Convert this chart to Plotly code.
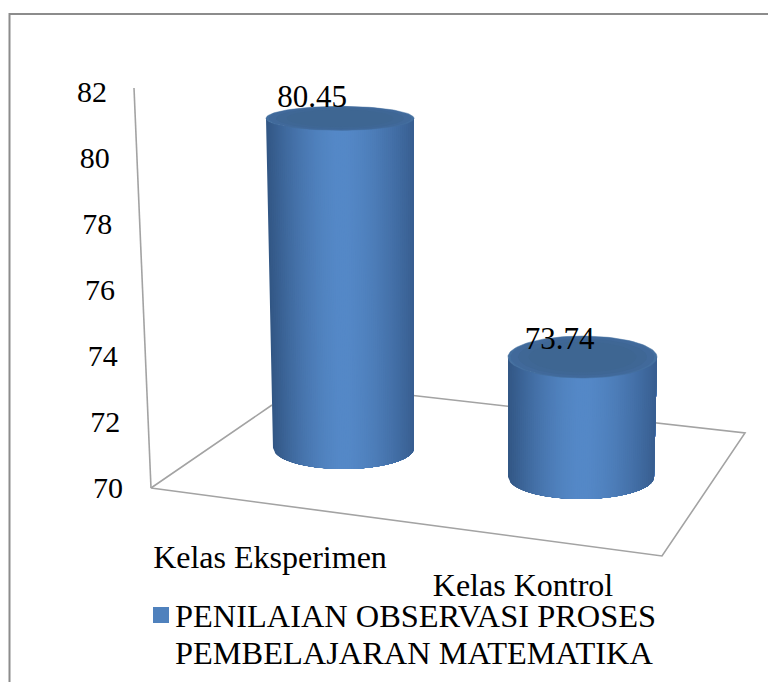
"""3D-look cylinder chart of the two class scores, drawn on plain 2D axes."""

import numpy as np
import plotly.graph_objects as go

CATEGORIES = ["Kelas Eksperimen", "Kelas Kontrol"]
VALUES = [80.45, 73.74]
Y_TICKS = [70, 72, 74, 76, 78, 80, 82]
SERIES_LINES = ["PENILAIAN OBSERVASI PROSES", "PEMBELAJARAN MATEMATIKA"]

# the page keeps its 8px body margin, so the figure is that much smaller
PAGE_MARGIN = 8
WIDTH, HEIGHT = 776 - PAGE_MARGIN, 682 - PAGE_MARGIN
FONT = "Liberation Serif"
LINE = "#a3a3a3"

# x axis is in category units, y axis in value units; both map onto the canvas
CAT_X0, CAT_STEP = 342 - PAGE_MARGIN, 239
VAL_Y70, VAL_STEP = 490 - PAGE_MARGIN, 33


def x_at(px):
    # px measured on the 776x682 window
    return (np.asarray(px, dtype=float) - PAGE_MARGIN - CAT_X0) / CAT_STEP


def y_at(px):
    return 70 + (VAL_Y70 - (np.asarray(px, dtype=float) - PAGE_MARGIN)) / VAL_STEP


# cylinder look, per category (window pixels)
TOP_CX, TOP_RX, TOP_RY = [340, 582.5], [74, 74.5], [12, 21]
BOT_CX, BOT_RX, BOT_RY = [343.5, 581], [70.5, 73], [21, 22]
BASE_PX = [448, 477]
RISE = [0.956, 0.972]  # foreshortening of the value scale at the bar's depth
LABEL_DX, LABEL_DY = [-28, -23], [-19, -16]


def shade(u):
    t = 1 - abs(u) ** 1.6
    edge = np.array([50, 86, 132]) if u < 0 else np.array([56, 94, 144])
    peak = np.array([85, 137, 200])
    r, g, b = (edge + (peak - edge) * t).astype(int)
    return f"rgb({r},{g},{b})"


def cylinder(i, value):
    traces = []
    top_px = BASE_PX[i] - (value - 70) * RISE[i] * VAL_STEP
    # painted left to right, each layer reaching the right edge, so no seams show
    for u0 in np.linspace(-1, 1, 75)[:-1]:
        us = np.linspace(u0, 1, 50)
        sin = np.sqrt(np.clip(1 - us**2, 0, 1))
        px = np.r_[TOP_CX[i] + TOP_RX[i] * us, (BOT_CX[i] + BOT_RX[i] * us)[::-1]]
        py = np.r_[top_px + TOP_RY[i] * sin, (BASE_PX[i] + BOT_RY[i] * sin)[::-1]]
        colour = shade(u0 + 1 / 74)
        traces.append(
            go.Scatter(
                x=x_at(px),
                y=y_at(py),
                mode="lines",
                fill="toself",
                fillcolor=colour,
                line=dict(width=0),
                hoverinfo="skip",
                showlegend=False,
            )
        )
    # cap: slightly lighter rim fading into the darker middle
    theta = np.linspace(0, 2 * np.pi, 120)
    for scale, colour in [(1, "#446f9f"), (0.96, "#41699a"), (0.86, "#3f6795"), (0.72, "#3e6692")]:
        traces.append(
            go.Scatter(
                x=x_at(TOP_CX[i] + TOP_RX[i] * scale * np.cos(theta)),
                y=y_at(top_px + TOP_RY[i] * scale * np.sin(theta)),
                mode="lines",
                fill="toself",
                fillcolor=colour,
                line=dict(color=colour, width=0.5),
                hovertemplate=f"{CATEGORIES[i]}: {value}<extra></extra>",
                showlegend=False,
            )
        )
    return traces, top_px


fig = go.Figure()

# wall edge and floor outline
for xs, ys in [
    ([134, 151], [88, 488]),
    ([272, 151, 662, 745, 400], [405, 488, 556, 433, 394]),
]:
    fig.add_trace(
        go.Scatter(
            x=x_at(xs),
            y=y_at(ys),
            mode="lines",
            line=dict(color=LINE, width=1.6),
            hoverinfo="skip",
            showlegend=False,
        )
    )

label_x, label_y = [], []
for i, value in enumerate(VALUES):
    traces, top_px = cylinder(i, value)
    fig.add_traces(traces)
    label_x.append(TOP_CX[i] + LABEL_DX[i])
    label_y.append(top_px + LABEL_DY[i])

# value labels
fig.add_trace(
    go.Scatter(
        x=x_at(label_x),
        y=y_at(label_y),
        mode="text",
        text=[f"{v:.2f}" for v in VALUES],
        textfont=dict(family=FONT, size=31, color="black"),
        hoverinfo="skip",
        showlegend=False,
    )
)

# tick labels follow the slanted wall
fig.add_trace(
    go.Scatter(
        x=x_at([92 + (82 - t) * 4 / 3 for t in Y_TICKS]),
        y=Y_TICKS,
        mode="text",
        text=[str(t) for t in Y_TICKS],
        textfont=dict(family=FONT, size=30, color="black"),
        hoverinfo="skip",
        showlegend=False,
    )
)

# category labels
fig.add_trace(
    go.Scatter(
        x=x_at([270, 523]),
        y=y_at([560, 588]),
        mode="text",
        text=CATEGORIES,
        textfont=dict(family=FONT, size=32, color="black"),
        hoverinfo="skip",
        showlegend=False,
    )
)

# legend swatch and text
fig.add_trace(
    go.Scatter(
        x=x_at([161]),
        y=y_at([615]),
        mode="markers",
        marker=dict(symbol="square", size=16, color="#4f81bd"),
        hoverinfo="skip",
        showlegend=False,
    )
)
for line_text, line_px in zip(SERIES_LINES, [616, 653]):
    fig.add_annotation(
        x=float(x_at(173)),
        y=float(y_at(line_px)),
        text=line_text,
        showarrow=False,
        xanchor="left",
        yanchor="middle",
        font=dict(family=FONT, size=32.4, color="black"),
    )

# outer frame, open on the right and at the bottom
frame_x = (9.5 - PAGE_MARGIN) / WIDTH
frame_y = 1 - (14 - PAGE_MARGIN) / HEIGHT
fig.add_shape(
    type="path",
    xref="paper",
    yref="paper",
    path=f"M {frame_x} 0 L {frame_x} {frame_y} L 1 {frame_y}",
    line=dict(color="#8c8c8c", width=2),
)

fig.update_layout(
    width=WIDTH,
    height=HEIGHT,
    margin=dict(l=0, r=0, t=0, b=0),
    paper_bgcolor="white",
    plot_bgcolor="white",
    showlegend=False,
    xaxis=dict(range=[float(x_at(PAGE_MARGIN)), float(x_at(776))], visible=False),
    yaxis=dict(range=[float(y_at(682)), float(y_at(PAGE_MARGIN))], visible=False),
)

fig.write_html("out.html")
